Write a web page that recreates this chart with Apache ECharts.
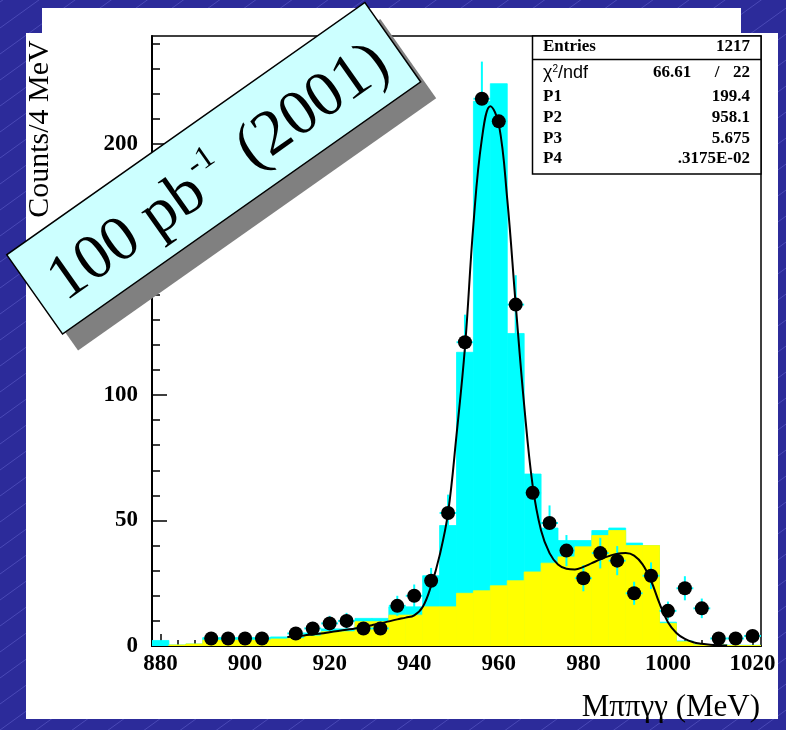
<!DOCTYPE html>
<html>
<head>
<meta charset="utf-8">
<script src="https://cdn.jsdelivr.net/npm/echarts@6/dist/echarts.min.js"></script>
<style>
  html, body { margin: 0; padding: 0; background: #2c2b9a; }
  #chart { width: 786px; height: 730px; }
</style>
</head>
<body>
<div id="chart"></div>
<script>
// M(pi pi gamma gamma) spectrum, 4 MeV bins
const binCenters = [880, 884, 888, 892, 896, 900, 904, 908, 912, 916, 920, 924, 928, 932, 936, 940, 944, 948,
                    952, 956, 960, 964, 968, 972, 976, 980, 984, 988, 992, 996, 1000, 1004, 1008, 1012, 1016, 1020];
// Monte Carlo total (signal + background), cyan
const mcTotal = [2.2, 0.4, 0.8, 3.3, 3.3, 3.3, 3.3, 3.6, 3.6, 5.2, 6.8, 6.8, 11, 11, 15.6, 15.6, 28, 48,
                 117, 217, 224, 124.5, 68.5, 47, 42, 42, 46, 47, 41, 40, 9.5, 2, 0.6, 0.5, 0.3, 0.3];
// Monte Carlo background, yellow
const mcBackground = [0, 0.4, 0.8, 2.4, 2.4, 2.4, 2.4, 2.8, 3, 4, 5.7, 5.7, 9.7, 9.7, 12.3, 12.3, 15.6, 15.6,
                      21, 22, 24, 26, 29.5, 33, 35.5, 39.5, 44, 46, 40, 40, 9, 1.7, 0.5, 0.4, 0.2, 0.2];

// Data points with errors
const dataMass = [892, 896, 900, 904, 912, 916, 920, 924, 928, 932, 936, 940, 944, 948, 952, 956, 960, 964,
                  968, 972, 976, 980, 984, 988, 992, 996, 1000, 1004, 1008, 1012, 1016, 1020];
const dataCounts = [3, 3, 3, 3, 5, 7, 9, 10, 7, 7, 16, 20, 26, 53, 121, 218, 209, 136,
                    61, 49, 38, 27, 37, 34, 21, 28, 14, 23, 15, 3, 3, 4];
const dataErrors = [1.7, 1.7, 1.7, 1.7, 2.2, 2.6, 3, 3.2, 2.6, 2.6, 4, 4.5, 5.1, 7.3, 11, 14.8, 14.5, 11.7,
                    7.8, 7, 6.2, 5.2, 6.1, 5.8, 4.6, 5.3, 3.7, 4.8, 3.9, 1.7, 1.7, 2];

// Fit function samples
const fitMass = [910, 912, 914, 916, 918, 920, 922, 924, 926, 928, 930, 932, 934, 936, 938, 940, 942, 944, 946, 948,
                 950, 952, 954, 956, 958, 960, 962, 964, 966, 968, 970, 972, 974, 976, 978, 980, 982, 984, 986, 988,
                 990, 992, 994, 996, 998, 1000, 1002, 1004, 1006, 1008, 1010, 1012, 1014];
const fitCounts = [3.6, 3.9, 4.2, 4.6, 5.0, 5.5, 6.0, 6.5, 7.0, 7.6, 8.3, 9.0, 9.8, 10.6, 11.3, 12.2, 15.5, 24, 36, 53,
                   84, 119, 168, 202, 215, 208, 178, 136, 96, 64, 46, 37, 32.5, 30.8, 30.5, 31.5, 33, 34.5, 35.8, 36.8,
                   37, 36, 32.5, 26, 17, 9.5, 5.2, 2.8, 1.5, 0.9, 0.5, 0.3, 0.2];

const xTickLabels = [880, 900, 920, 940, 960, 980, 1000, 1020];
const yTickLabels = [0, 50, 100, 150, 200];

const statsRows = [
  ['P1', '199.4'],
  ['P2', '958.1'],
  ['P3', '5.675'],
  ['P4', '.3175E-02']
];
const entries = '1217';
const chi2 = '66.61';
const ndf = '22';

const binWidth = 4;
const xMin = 878, xMax = 1022, yMin = 0, yMax = 243;

const xMinor = [];
for (let v = 880; v <= 1020; v += 4) xMinor.push(v);
const yMinor = [];
for (let v = 0; v <= 240; v += 10) yMinor.push(v);

const SERIF = '"Liberation Serif", "Times New Roman", serif';
const SANS = '"Liberation Sans", "DejaVu Sans", sans-serif';

function histRender(color) {
  return function (params, api) {
    const c = api.value(0), v = api.value(1);
    if (!(v > 0)) return null;
    const p0 = api.coord([c - binWidth / 2, 0]);
    const p1 = api.coord([c + binWidth / 2, v]);
    return {
      type: 'rect',
      shape: { x: p0[0], y: p1[1], width: p1[0] - p0[0], height: p0[1] - p1[1] },
      style: { fill: color, stroke: color, lineWidth: 0.8 }
    };
  };
}

// background stripes on the blue frame
const stripes = [];
for (let c = -700; c < 1400; c += 26) {
  stripes.push({
    type: 'line', z: -30, silent: true,
    shape: { x1: 0, y1: c, x2: 786, y2: c - 0.72 * 786 },
    style: { stroke: 'rgba(120,120,225,0.4)', lineWidth: 1 }
  });
}

const boxCx = 213.7, boxCy = 168.3, boxRot = 35.15 * Math.PI / 180;
const boxW = 438, boxH = 97;

const statsFont = 'bold 17px ' + SERIF;
const statsText = [];
const sx0 = 543, sx1 = 750;
statsText.push({ type: 'text', z: 61, style: { x: sx0, y: 47, text: 'Entries', font: statsFont, fill: '#000', verticalAlign: 'middle' } });
statsText.push({ type: 'text', z: 61, style: { x: sx1, y: 47, text: entries, font: statsFont, fill: '#000', align: 'right', verticalAlign: 'middle' } });
statsText.push({ type: 'text', z: 61, style: {
  x: sx0, y: 73, text: '{c|χ}{s|2}{c|/ndf}', verticalAlign: 'middle', fill: '#000',
  rich: {
    c: { fontFamily: SANS, fontSize: 18, fill: '#000' },
    s: { fontFamily: SANS, fontSize: 10, fill: '#000', verticalAlign: 'top', padding: [0, 0, 8, 0] }
  }
} });
statsText.push({ type: 'text', z: 61, style: { x: 672, y: 73, text: chi2, font: statsFont, fill: '#000', align: 'center', verticalAlign: 'middle' } });
statsText.push({ type: 'text', z: 61, style: { x: 717, y: 73, text: '/', font: statsFont, fill: '#000', align: 'center', verticalAlign: 'middle' } });
statsText.push({ type: 'text', z: 61, style: { x: sx1, y: 73, text: ndf, font: statsFont, fill: '#000', align: 'right', verticalAlign: 'middle' } });
const rowY = [97, 118, 138.5, 158.5];
statsRows.forEach((r, i) => {
  statsText.push({ type: 'text', z: 61, style: { x: sx0, y: rowY[i], text: r[0], font: statsFont, fill: '#000', verticalAlign: 'middle' } });
  statsText.push({ type: 'text', z: 61, style: { x: sx1, y: rowY[i], text: r[1], font: statsFont, fill: '#000', align: 'right', verticalAlign: 'middle' } });
});

const chart = echarts.init(document.getElementById('chart'), null, { renderer: 'canvas' });

chart.setOption({
  backgroundColor: '#2c2b9a',
  animation: false,
  grid: {
    left: 152, top: 36, width: 609, height: 610,
    show: true, borderColor: '#000', borderWidth: 1.5, backgroundColor: 'transparent'
  },
  xAxis: [
    {
      type: 'value', min: xMin, max: xMax, position: 'bottom',
      axisLine: { show: true, onZero: false, lineStyle: { color: '#000', width: 2 } },
      axisTick: { show: true, inside: true, length: 12, customValues: xTickLabels, lineStyle: { color: '#000', width: 1.5 } },
      axisLabel: { show: true, customValues: xTickLabels, margin: 7, color: '#000', fontFamily: SERIF, fontSize: 23, fontWeight: 'bold',
                   formatter: v => String(v) },
      splitLine: { show: false }
    },
    {
      type: 'value', min: xMin, max: xMax, position: 'bottom', gridIndex: 0,
      axisLine: { show: false, onZero: false },
      axisTick: { show: true, inside: true, length: 6, customValues: xMinor, lineStyle: { color: '#000', width: 1.5 } },
      axisLabel: { show: false },
      splitLine: { show: false }
    }
  ],
  yAxis: [
    {
      type: 'value', min: yMin, max: yMax, position: 'left',
      axisLine: { show: true, onZero: false, lineStyle: { color: '#000', width: 2 } },
      axisTick: { show: true, inside: true, length: 15, customValues: yTickLabels, lineStyle: { color: '#000', width: 1.5 } },
      axisLabel: { show: true, customValues: yTickLabels, margin: 14, color: '#000', fontFamily: SERIF, fontSize: 23, fontWeight: 'bold',
                   formatter: v => String(v) },
      splitLine: { show: false }
    },
    {
      type: 'value', min: yMin, max: yMax, position: 'left', gridIndex: 0,
      axisLine: { show: false, onZero: false },
      axisTick: { show: true, inside: true, length: 8, customValues: yMinor, lineStyle: { color: '#000', width: 1.5 } },
      axisLabel: { show: false },
      splitLine: { show: false }
    }
  ],
  series: [
    {
      name: 'MC total', type: 'custom', xAxisIndex: 0, yAxisIndex: 0, z: 2, clip: true,
      renderItem: histRender('#00ffff'),
      data: binCenters.map((c, i) => [c, mcTotal[i]])
    },
    {
      name: 'MC background', type: 'custom', xAxisIndex: 0, yAxisIndex: 0, z: 3, clip: true,
      renderItem: histRender('#ffff00'),
      data: binCenters.map((c, i) => [c, mcBackground[i]])
    },
    {
      name: 'errors', type: 'custom', xAxisIndex: 0, yAxisIndex: 0, z: 4, clip: true,
      renderItem: function (params, api) {
        const x = api.value(0), y = api.value(1), e = api.value(2);
        const top = api.coord([x, y + e]);
        const bot = api.coord([x, Math.max(y - e, 0)]);
        const l = api.coord([x - binWidth / 2, y]);
        const r = api.coord([x + binWidth / 2, y]);
        return {
          type: 'group',
          children: [
            { type: 'line', shape: { x1: top[0], y1: top[1], x2: bot[0], y2: bot[1] }, style: { stroke: '#00ffff', lineWidth: 2 } },
            { type: 'line', shape: { x1: l[0], y1: l[1], x2: r[0], y2: r[1] }, style: { stroke: '#00ffff', lineWidth: 2 } }
          ]
        };
      },
      data: dataMass.map((m, i) => [m, dataCounts[i], dataErrors[i]])
    },
    {
      name: 'fit', type: 'line', xAxisIndex: 0, yAxisIndex: 0, z: 5,
      showSymbol: false, smooth: 0.4, clip: true,
      lineStyle: { color: '#000', width: 2 },
      data: fitMass.map((m, i) => [m, fitCounts[i]])
    },
    {
      name: 'data', type: 'scatter', xAxisIndex: 0, yAxisIndex: 0, z: 6,
      symbol: 'circle', symbolSize: 14,
      itemStyle: { color: '#000', opacity: 1 },
      data: dataMass.map((m, i) => [m, dataCounts[i]])
    }
  ],
  graphic: [
    ...stripes,
    { type: 'rect', z: -20, silent: true, shape: { x: 42, y: 8, width: 699, height: 27 }, style: { fill: '#fff' } },
    { type: 'rect', z: -20, silent: true, shape: { x: 26, y: 33, width: 752, height: 686 }, style: { fill: '#fff' } },
    // statistics box
    { type: 'rect', z: 60, shape: { x: 532.5, y: 36, width: 228.5, height: 138 }, style: { fill: '#fff', stroke: '#000', lineWidth: 1.5 } },
    { type: 'line', z: 61, shape: { x1: 532.5, y1: 59.5, x2: 761, y2: 59.5 }, style: { stroke: '#000', lineWidth: 1.5 } },
    ...statsText,
    // axis titles
    { type: 'text', z: 20, rotation: Math.PI / 2, x: 40, y: 129,
      style: { text: 'Counts/4 MeV', font: '30px ' + SERIF, fill: '#000', align: 'center', verticalAlign: 'middle' } },
    { type: 'text', z: 20, x: 760, y: 708,
      style: { text: 'Mππγγ (MeV)', font: '31px ' + SERIF, fill: '#000', align: 'right', verticalAlign: 'middle' } },
    // luminosity tag with drop shadow
    { type: 'rect', z: 90, x: boxCx + 15.5, y: boxCy + 16.5, rotation: boxRot,
      shape: { x: -boxW / 2, y: -boxH / 2, width: boxW, height: boxH }, style: { fill: '#808080' } },
    {
      type: 'group', z: 100, x: boxCx, y: boxCy, rotation: boxRot,
      children: [
        { type: 'rect', z: 100, shape: { x: -boxW / 2, y: -boxH / 2, width: boxW, height: boxH },
          style: { fill: '#ccffff', stroke: '#000', lineWidth: 1.5 } },
        { type: 'text', z: 101, style: { x: -198, y: 7, text: '100 pb', font: '64px ' + SERIF, fill: '#000', align: 'left', verticalAlign: 'middle' } },
        { type: 'text', z: 101, style: { x: -20, y: -13, text: '-1', font: '32px ' + SERIF, fill: '#000', align: 'left', verticalAlign: 'middle' } },
        { type: 'text', z: 101, style: { x: 202, y: 7, text: '(2001)', font: '64px ' + SERIF, fill: '#000', align: 'right', verticalAlign: 'middle' } }
      ]
    }
  ]
});
</script>
</body>
</html>
